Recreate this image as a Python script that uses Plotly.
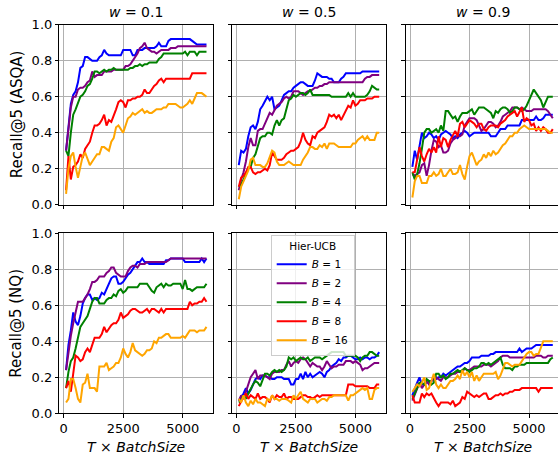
import plotly.graph_objects as go

# ---------------- data ----------------
steps = [100, 200, 300, 400, 500, 600, 700, 800, 900, 1000,
         1100, 1200, 1300, 1400, 1500, 1600, 1700, 1800, 1900, 2000,
         2100, 2200, 2300, 2400, 2500, 2600, 2700, 2800, 2900, 3000,
         3100, 3200, 3300, 3400, 3500, 3600, 3700, 3800, 3900, 4000,
         4100, 4200, 4300, 4400, 4500, 4600, 4700, 4800, 4900, 5000,
         5100, 5200, 5300, 5400, 5500, 5600, 5700, 5800, 5900, 6000]

batch_labels = ["1", "2", "4", "8", "16"]
weights = ["0.1", "0.5", "0.9"]
datasets = ["ASQA", "NQ"]
x_ticks = [0, 2500, 5000]
y_ticks = [0.0, 0.2, 0.4, 0.6, 0.8, 1.0]

# ASQA, w = 0.1
asqa_w01_b1 = [0.30,0.45,0.56,0.61,0.63,0.68,0.76,0.77,0.82,0.82, 0.81,0.80,0.80,0.80,0.82,0.83,0.86,0.84,0.83,0.83,
               0.83,0.83,0.83,0.83,0.86,0.86,0.86,0.86,0.83,0.83, 0.86,0.86,0.86,0.87,0.87,0.87,0.87,0.87,0.88,0.90,
               0.88,0.88,0.88,0.91,0.92,0.92,0.92,0.92,0.92,0.92, 0.92,0.92,0.92,0.91,0.90,0.89,0.89,0.89,0.89,0.89]
asqa_w01_b2 = [0.30,0.42,0.54,0.60,0.60,0.64,0.65,0.65,0.66,0.68, 0.69,0.74,0.71,0.72,0.72,0.72,0.74,0.74,0.74,0.74,
               0.75,0.75,0.75,0.75,0.75,0.77,0.77,0.78,0.80,0.82, 0.84,0.87,0.88,0.90,0.87,0.86,0.85,0.85,0.84,0.85,
               0.86,0.86,0.86,0.86,0.87,0.87,0.87,0.88,0.88,0.88, 0.88,0.88,0.88,0.88,0.88,0.88,0.88,0.88,0.88,0.88]
asqa_w01_b4 = [0.30,0.27,0.40,0.50,0.53,0.56,0.60,0.61,0.63,0.66, 0.67,0.70,0.74,0.74,0.73,0.74,0.75,0.74,0.75,0.75,
               0.76,0.75,0.75,0.75,0.75,0.75,0.75,0.76,0.76,0.77, 0.77,0.78,0.77,0.78,0.78,0.79,0.79,0.79,0.79,0.81,
               0.82,0.84,0.84,0.84,0.84,0.84,0.84,0.84,0.84,0.84, 0.85,0.83,0.85,0.85,0.85,0.83,0.85,0.85,0.85,0.85]
asqa_w01_b8 = [0.08,0.27,0.14,0.21,0.22,0.24,0.28,0.26,0.31,0.33, 0.35,0.40,0.44,0.44,0.45,0.47,0.50,0.44,0.47,0.46,
               0.49,0.53,0.57,0.58,0.57,0.54,0.58,0.58,0.59,0.59, 0.60,0.60,0.61,0.64,0.62,0.62,0.64,0.66,0.67,0.69,
               0.70,0.68,0.70,0.70,0.70,0.70,0.70,0.70,0.70,0.70, 0.70,0.70,0.70,0.73,0.73,0.73,0.73,0.73,0.73,0.73]
asqa_w01_b16 = [0.06,0.20,0.27,0.29,0.21,0.15,0.21,0.27,0.29,0.25, 0.22,0.24,0.26,0.28,0.28,0.32,0.32,0.31,0.30,0.35,
                0.37,0.43,0.44,0.42,0.40,0.44,0.48,0.49,0.51,0.50, 0.51,0.52,0.53,0.51,0.52,0.51,0.51,0.52,0.53,0.53,
                0.53,0.54,0.54,0.56,0.56,0.56,0.56,0.55,0.54,0.54, 0.55,0.56,0.58,0.56,0.59,0.62,0.62,0.62,0.61,0.60]

# ASQA, w = 0.5
asqa_w05_b1 = [0.22,0.30,0.29,0.31,0.38,0.43,0.44,0.42,0.46,0.53, 0.55,0.58,0.60,0.58,0.60,0.53,0.54,0.55,0.58,0.61,
               0.62,0.63,0.63,0.65,0.66,0.67,0.68,0.68,0.67,0.66, 0.66,0.66,0.69,0.73,0.72,0.71,0.71,0.71,0.70,0.70,
               0.68,0.68,0.68,0.70,0.71,0.73,0.73,0.73,0.73,0.73, 0.73,0.73,0.74,0.74,0.74,0.74,0.74,0.74,0.74,0.74]
asqa_w05_b2 = [0.08,0.14,0.18,0.24,0.32,0.37,0.33,0.33,0.41,0.42, 0.42,0.45,0.49,0.51,0.50,0.53,0.55,0.56,0.57,0.59,
               0.60,0.59,0.60,0.63,0.63,0.63,0.62,0.61,0.62,0.63, 0.63,0.64,0.65,0.65,0.66,0.66,0.67,0.67,0.68,0.68,
               0.68,0.68,0.68,0.68,0.68,0.68,0.68,0.68,0.68,0.68, 0.68,0.68,0.68,0.70,0.71,0.71,0.72,0.72,0.72,0.72]
asqa_w05_b4 = [0.10,0.11,0.14,0.17,0.20,0.21,0.26,0.28,0.32,0.37, 0.38,0.38,0.40,0.40,0.39,0.44,0.47,0.44,0.47,0.48,
               0.53,0.58,0.59,0.61,0.60,0.61,0.62,0.62,0.61,0.62, 0.64,0.61,0.61,0.61,0.61,0.61,0.61,0.61,0.61,0.60,
               0.60,0.60,0.60,0.60,0.60,0.60,0.62,0.60,0.62,0.60, 0.60,0.60,0.60,0.60,0.61,0.63,0.66,0.65,0.64,0.64]
asqa_w05_b8 = [0.10,0.15,0.16,0.18,0.21,0.21,0.18,0.17,0.18,0.18, 0.19,0.20,0.19,0.22,0.29,0.27,0.25,0.25,0.25,0.26,
               0.28,0.29,0.30,0.30,0.31,0.32,0.35,0.40,0.36,0.34, 0.33,0.38,0.37,0.40,0.41,0.42,0.43,0.46,0.50,0.49,
               0.50,0.48,0.50,0.47,0.50,0.53,0.55,0.54,0.58,0.55, 0.56,0.58,0.58,0.58,0.59,0.59,0.59,0.60,0.60,0.60]
asqa_w05_b16 = [0.03,0.10,0.13,0.16,0.19,0.25,0.26,0.22,0.22,0.22, 0.21,0.21,0.23,0.27,0.30,0.29,0.24,0.22,0.22,0.22,
                0.23,0.24,0.23,0.22,0.22,0.22,0.22,0.25,0.27,0.29, 0.32,0.32,0.31,0.31,0.33,0.32,0.34,0.31,0.34,0.34,
                0.34,0.33,0.32,0.32,0.32,0.32,0.32,0.32,0.34,0.34, 0.36,0.37,0.38,0.36,0.38,0.36,0.36,0.36,0.40,0.40]

# ASQA, w = 0.9
asqa_w09_b1 = [0.21,0.30,0.25,0.33,0.40,0.37,0.38,0.40,0.39,0.37, 0.38,0.36,0.39,0.40,0.41,0.40,0.39,0.37,0.38,0.37,
               0.39,0.40,0.41,0.40,0.38,0.39,0.40,0.40,0.40,0.40, 0.40,0.40,0.40,0.38,0.38,0.38,0.40,0.42,0.42,0.42,
               0.44,0.44,0.44,0.44,0.44,0.44,0.47,0.47,0.47,0.47, 0.47,0.47,0.49,0.47,0.47,0.48,0.50,0.50,0.50,0.50]
asqa_w09_b2 = [0.17,0.16,0.17,0.18,0.22,0.23,0.16,0.22,0.30,0.36, 0.35,0.32,0.33,0.29,0.29,0.30,0.34,0.36,0.37,0.38,
               0.38,0.39,0.44,0.46,0.48,0.48,0.48,0.47,0.44,0.41, 0.42,0.44,0.46,0.46,0.45,0.43,0.44,0.46,0.49,0.50,
               0.51,0.52,0.54,0.54,0.54,0.53,0.54,0.53,0.52,0.52, 0.52,0.53,0.53,0.53,0.53,0.53,0.53,0.52,0.50,0.48]
asqa_w09_b4 = [0.18,0.14,0.17,0.23,0.31,0.40,0.42,0.42,0.40,0.41, 0.42,0.40,0.44,0.41,0.52,0.52,0.50,0.48,0.49,0.46,
               0.49,0.51,0.51,0.51,0.52,0.53,0.50,0.52,0.54,0.54, 0.54,0.53,0.52,0.51,0.48,0.52,0.51,0.53,0.54,0.54,
               0.53,0.51,0.52,0.54,0.54,0.53,0.52,0.53,0.55,0.58, 0.61,0.64,0.62,0.60,0.58,0.54,0.57,0.60,0.60,0.60]
asqa_w09_b8 = [0.18,0.18,0.25,0.32,0.27,0.24,0.28,0.31,0.29,0.32, 0.29,0.38,0.32,0.37,0.36,0.32,0.36,0.39,0.41,0.38,
               0.45,0.46,0.43,0.45,0.47,0.46,0.45,0.43,0.45,0.45, 0.42,0.41,0.43,0.44,0.44,0.44,0.43,0.45,0.46,0.47,
               0.49,0.50,0.51,0.52,0.49,0.52,0.54,0.46,0.48,0.47, 0.44,0.45,0.41,0.43,0.41,0.43,0.42,0.40,0.40,0.42]
asqa_w09_b16 = [0.04,0.13,0.16,0.16,0.12,0.12,0.12,0.16,0.16,0.18, 0.16,0.17,0.20,0.16,0.16,0.18,0.20,0.17,0.17,0.18,
                0.22,0.17,0.14,0.21,0.27,0.29,0.26,0.22,0.24,0.25, 0.28,0.26,0.29,0.27,0.30,0.28,0.29,0.31,0.33,0.34,
                0.36,0.38,0.38,0.40,0.40,0.42,0.43,0.44,0.43,0.42, 0.42,0.42,0.42,0.42,0.42,0.42,0.42,0.41,0.40,0.40]

# NQ, w = 0.1
nq_w01_b1 = [0.24,0.38,0.46,0.56,0.51,0.49,0.54,0.61,0.64,0.66, 0.66,0.63,0.64,0.63,0.64,0.67,0.66,0.69,0.72,0.75,
             0.76,0.76,0.72,0.72,0.73,0.75,0.77,0.78,0.80,0.82, 0.84,0.84,0.86,0.84,0.84,0.83,0.83,0.83,0.83,0.83,
             0.83,0.83,0.85,0.85,0.86,0.86,0.86,0.86,0.86,0.86, 0.84,0.84,0.84,0.84,0.84,0.84,0.84,0.86,0.84,0.86]
nq_w01_b2 = [0.24,0.35,0.43,0.50,0.57,0.62,0.62,0.62,0.64,0.66, 0.69,0.73,0.73,0.74,0.76,0.76,0.76,0.78,0.79,0.81,
             0.81,0.78,0.77,0.76,0.76,0.76,0.79,0.81,0.82,0.82, 0.81,0.83,0.83,0.83,0.84,0.84,0.84,0.84,0.84,0.84,
             0.84,0.84,0.84,0.85,0.86,0.86,0.86,0.86,0.86,0.86, 0.86,0.86,0.86,0.86,0.86,0.86,0.86,0.86,0.86,0.86]
nq_w01_b4 = [0.14,0.23,0.29,0.31,0.36,0.43,0.48,0.50,0.52,0.54, 0.58,0.62,0.64,0.64,0.61,0.61,0.61,0.63,0.64,0.64,
             0.66,0.65,0.68,0.69,0.67,0.68,0.70,0.70,0.70,0.70, 0.70,0.72,0.72,0.72,0.72,0.70,0.68,0.67,0.70,0.71,
             0.72,0.70,0.72,0.71,0.71,0.72,0.72,0.72,0.72,0.69, 0.74,0.69,0.69,0.68,0.69,0.70,0.70,0.70,0.70,0.72]
nq_w01_b8 = [0.14,0.18,0.12,0.23,0.32,0.31,0.29,0.30,0.34,0.36, 0.34,0.38,0.42,0.42,0.42,0.44,0.48,0.45,0.47,0.49,
             0.50,0.50,0.52,0.56,0.53,0.54,0.55,0.57,0.58,0.58, 0.57,0.56,0.56,0.57,0.58,0.56,0.58,0.58,0.57,0.56,
             0.58,0.56,0.58,0.58,0.58,0.58,0.58,0.58,0.58,0.58, 0.58,0.58,0.62,0.60,0.61,0.61,0.62,0.62,0.64,0.62]
nq_w01_b16 = [0.06,0.08,0.19,0.19,0.14,0.08,0.06,0.16,0.17,0.22, 0.14,0.14,0.14,0.12,0.26,0.26,0.26,0.28,0.24,0.25,
              0.26,0.28,0.28,0.31,0.36,0.33,0.31,0.34,0.39,0.35, 0.34,0.33,0.32,0.33,0.35,0.35,0.36,0.40,0.39,0.42,
              0.42,0.43,0.44,0.44,0.42,0.42,0.42,0.42,0.42,0.43, 0.42,0.44,0.46,0.46,0.46,0.45,0.46,0.46,0.46,0.48]

# NQ, w = 0.5
nq_w05_b1 = [0.07,0.09,0.11,0.14,0.11,0.13,0.16,0.19,0.20,0.19, 0.21,0.21,0.20,0.20,0.19,0.19,0.20,0.20,0.20,0.19,
             0.19,0.19,0.16,0.16,0.19,0.19,0.22,0.19,0.23,0.20, 0.22,0.20,0.21,0.22,0.23,0.22,0.20,0.23,0.24,0.26,
             0.27,0.28,0.30,0.29,0.31,0.31,0.32,0.32,0.31,0.30, 0.30,0.31,0.30,0.31,0.31,0.30,0.31,0.31,0.32,0.34]
nq_w05_b2 = [0.07,0.10,0.08,0.12,0.15,0.20,0.22,0.24,0.19,0.21, 0.21,0.21,0.20,0.19,0.22,0.23,0.23,0.23,0.24,0.24,
             0.27,0.29,0.26,0.28,0.29,0.28,0.30,0.31,0.30,0.28, 0.26,0.28,0.27,0.26,0.26,0.24,0.26,0.29,0.27,0.25,
             0.26,0.26,0.27,0.27,0.27,0.29,0.29,0.29,0.28,0.29, 0.28,0.27,0.24,0.25,0.25,0.26,0.27,0.28,0.28,0.28]
nq_w05_b4 = [0.06,0.07,0.10,0.08,0.11,0.14,0.16,0.18,0.17,0.15, 0.19,0.22,0.22,0.21,0.23,0.24,0.23,0.24,0.23,0.24,
             0.26,0.31,0.30,0.31,0.29,0.30,0.31,0.30,0.30,0.31, 0.29,0.30,0.31,0.31,0.31,0.30,0.31,0.32,0.33,0.34,
             0.34,0.34,0.34,0.34,0.34,0.32,0.32,0.32,0.32,0.32, 0.31,0.29,0.31,0.32,0.32,0.34,0.34,0.33,0.32,0.32]
nq_w05_b8 = [0.04,0.07,0.09,0.11,0.08,0.10,0.09,0.08,0.11,0.08, 0.09,0.09,0.08,0.06,0.10,0.08,0.10,0.09,0.09,0.11,
             0.08,0.09,0.09,0.08,0.08,0.08,0.09,0.10,0.10,0.09, 0.09,0.08,0.09,0.10,0.09,0.10,0.10,0.10,0.10,0.10,
             0.10,0.10,0.10,0.10,0.10,0.10,0.16,0.16,0.16,0.15, 0.15,0.15,0.15,0.15,0.15,0.14,0.14,0.14,0.16,0.16]
nq_w05_b16 = [0.08,0.06,0.10,0.06,0.04,0.07,0.05,0.08,0.06,0.06, 0.05,0.04,0.08,0.07,0.10,0.08,0.08,0.07,0.08,0.08,
              0.08,0.07,0.06,0.10,0.08,0.10,0.12,0.08,0.07,0.06, 0.08,0.08,0.08,0.06,0.07,0.08,0.08,0.07,0.09,0.09,
              0.10,0.10,0.10,0.10,0.10,0.10,0.07,0.10,0.10,0.11, 0.12,0.13,0.14,0.13,0.14,0.08,0.08,0.13,0.14,0.14]

# NQ, w = 0.9
nq_w09_b1 = [0.10,0.14,0.17,0.20,0.16,0.16,0.17,0.18,0.18,0.19, 0.19,0.20,0.20,0.22,0.21,0.22,0.23,0.24,0.25,0.26,
             0.26,0.27,0.28,0.28,0.29,0.31,0.31,0.31,0.31,0.32, 0.32,0.32,0.32,0.33,0.33,0.34,0.34,0.34,0.34,0.34,
             0.34,0.34,0.34,0.34,0.34,0.36,0.34,0.35,0.36,0.36, 0.36,0.37,0.38,0.38,0.38,0.38,0.38,0.38,0.38,0.38]
nq_w09_b2 = [0.07,0.10,0.14,0.17,0.14,0.16,0.18,0.16,0.18,0.19, 0.20,0.19,0.18,0.20,0.20,0.20,0.21,0.22,0.22,0.23,
             0.23,0.23,0.25,0.24,0.24,0.25,0.26,0.26,0.26,0.26, 0.27,0.27,0.27,0.26,0.27,0.28,0.29,0.31,0.32,0.32,
             0.32,0.31,0.31,0.31,0.31,0.31,0.31,0.31,0.31,0.31, 0.31,0.31,0.32,0.32,0.32,0.31,0.31,0.32,0.32,0.32]
nq_w09_b4 = [0.08,0.11,0.13,0.17,0.17,0.16,0.19,0.18,0.16,0.17, 0.22,0.22,0.20,0.21,0.19,0.20,0.22,0.22,0.23,0.24,
             0.23,0.24,0.25,0.24,0.23,0.24,0.25,0.25,0.26,0.28, 0.28,0.27,0.28,0.27,0.28,0.29,0.30,0.31,0.27,0.25,
             0.25,0.25,0.24,0.26,0.26,0.27,0.27,0.27,0.28,0.28, 0.28,0.28,0.28,0.28,0.28,0.28,0.28,0.28,0.30,0.31]
nq_w09_b8 = [0.10,0.06,0.06,0.06,0.11,0.09,0.11,0.10,0.11,0.08, 0.06,0.04,0.06,0.06,0.06,0.06,0.05,0.07,0.04,0.05,
             0.06,0.09,0.08,0.12,0.11,0.10,0.09,0.10,0.09,0.10, 0.11,0.11,0.08,0.08,0.09,0.10,0.10,0.11,0.10,0.11,
             0.11,0.12,0.12,0.13,0.13,0.13,0.14,0.14,0.14,0.14, 0.14,0.14,0.14,0.12,0.14,0.14,0.14,0.14,0.14,0.14]
nq_w09_b16 = [0.12,0.14,0.16,0.15,0.17,0.20,0.13,0.14,0.18,0.22, 0.16,0.14,0.16,0.14,0.14,0.16,0.18,0.18,0.19,0.21,
              0.19,0.24,0.21,0.23,0.20,0.23,0.18,0.21,0.18,0.20, 0.22,0.22,0.22,0.22,0.22,0.23,0.19,0.21,0.25,0.28,
              0.28,0.27,0.26,0.27,0.27,0.27,0.29,0.31,0.33,0.34, 0.34,0.32,0.33,0.33,0.36,0.40,0.40,0.40,0.40,0.40]

panels = [
    [asqa_w01_b1, asqa_w01_b2, asqa_w01_b4, asqa_w01_b8, asqa_w01_b16],
    [asqa_w05_b1, asqa_w05_b2, asqa_w05_b4, asqa_w05_b8, asqa_w05_b16],
    [asqa_w09_b1, asqa_w09_b2, asqa_w09_b4, asqa_w09_b8, asqa_w09_b16],
    [nq_w01_b1, nq_w01_b2, nq_w01_b4, nq_w01_b8, nq_w01_b16],
    [nq_w05_b1, nq_w05_b2, nq_w05_b4, nq_w05_b8, nq_w05_b16],
    [nq_w09_b1, nq_w09_b2, nq_w09_b4, nq_w09_b8, nq_w09_b16],
]

# ---------------- styling ----------------
W, H = 558, 461
colors = ["blue", "purple", "green", "red", "orange"]
FONT = "DejaVu Sans"

col_px = [(59.3, 213.3), (232.0, 386.0), (405.6, 559.6)]
row_px = [(24.7, 204.7), (233.3, 413.3)]
x_range_full = [-185, 6286]

fig = go.Figure()

layout = dict(
    template="none",
    width=W, height=H,
    margin=dict(l=0, r=0, t=0, b=0, pad=0, autoexpand=False),
    paper_bgcolor="white", plot_bgcolor="white",
    font=dict(family=FONT, size=13, color="black"),
    showlegend=True,
)

annotations = []
for r in range(2):
    for c in range(3):
        k = r * 3 + c + 1
        xa = "xaxis" if k == 1 else f"xaxis{k}"
        ya = "yaxis" if k == 1 else f"yaxis{k}"
        x0, x1 = col_px[c]
        right_clip = min(x1, W)
        xr = [x_range_full[0], x_range_full[0] + (right_clip - x0) / (x1 - x0) * (x_range_full[1] - x_range_full[0])]
        layout[xa] = dict(
            domain=[x0 / W, right_clip / W], range=xr, anchor=f"y{k}",
            tickvals=x_ticks, ticktext=[str(t) for t in x_ticks],
            showticklabels=(r == 1), automargin=False,
            ticks="outside", ticklen=3.5, tickwidth=0.8, tickcolor="black",
            showgrid=True, gridcolor="#b0b0b0", gridwidth=0.8,
            showline=True, linecolor="black", linewidth=0.8, mirror=True,
            zeroline=False, tickfont=dict(size=13, family=FONT, color="black"),
        )
        y0, y1 = row_px[r]
        layout[ya] = dict(
            domain=[(H - y1) / H, (H - y0) / H], range=[0, 1], anchor=f"x{k}",
            tickvals=y_ticks, ticktext=[f"{t:.1f}" for t in y_ticks],
            showticklabels=(c == 0), automargin=False,
            ticks="outside", ticklen=3.5, tickwidth=0.8, tickcolor="black",
            showgrid=True, gridcolor="#b0b0b0", gridwidth=0.8,
            showline=True, linecolor="black", linewidth=0.8, mirror=(c != 2),
            zeroline=False, tickfont=dict(size=13, family=FONT, color="black"),
        )
        series = panels[k - 1]
        for j, vals in enumerate(series):
            fig.add_trace(go.Scatter(
                x=steps, y=vals, mode="lines",
                line=dict(color=colors[j], width=2),
                name=f"<i>B</i> = {batch_labels[j]}",
                showlegend=(k == 5),
                xaxis=f"x{k}", yaxis=f"y{k}",
                hoverinfo="skip",
            ))
        if r == 0:
            annotations.append(dict(
                text=f"<i>w</i> = {weights[c]}", xref="paper", yref="paper",
                x=((x0 + x1) / 2) / W, y=(H - 12) / H,
                xanchor="center", yanchor="middle", showarrow=False,
                font=dict(size=14, family=FONT, color="black"),
            ))
        else:
            annotations.append(dict(
                text="<i>T</i> × <i>BatchSize</i>", xref="paper", yref="paper",
                x=((x0 + x1) / 2) / W, y=(H - 447) / H,
                xanchor="center", yanchor="middle", showarrow=False,
                font=dict(size=14, family=FONT, color="black"),
            ))
    annotations.append(dict(
        text=f"Recall@5 ({datasets[r]})", xref="paper", yref="paper",
        x=16.5 / W, y=(H - (row_px[r][0] + row_px[r][1]) / 2) / H,
        xanchor="center", yanchor="middle", showarrow=False, textangle=-90,
        font=dict(size=15, family=FONT, color="black"),
    ))

layout["annotations"] = annotations
layout["legend"] = dict(
    x=270.7 / W, y=(H - 235) / H, xanchor="left", yanchor="top",
    bgcolor="rgba(255,255,255,0.8)", bordercolor="#cccccc", borderwidth=1,
    font=dict(size=10.5, family=FONT, color="black"),
    title=dict(text="Hier-UCB", side="top center", font=dict(size=10.5, family=FONT, color="black")),
    itemwidth=30, tracegroupgap=0, traceorder="normal",
)
fig.update_layout(**layout)

fig.write_html("out.html", config={"displayModeBar": False},
               post_script="document.body.style.margin='0px';")
